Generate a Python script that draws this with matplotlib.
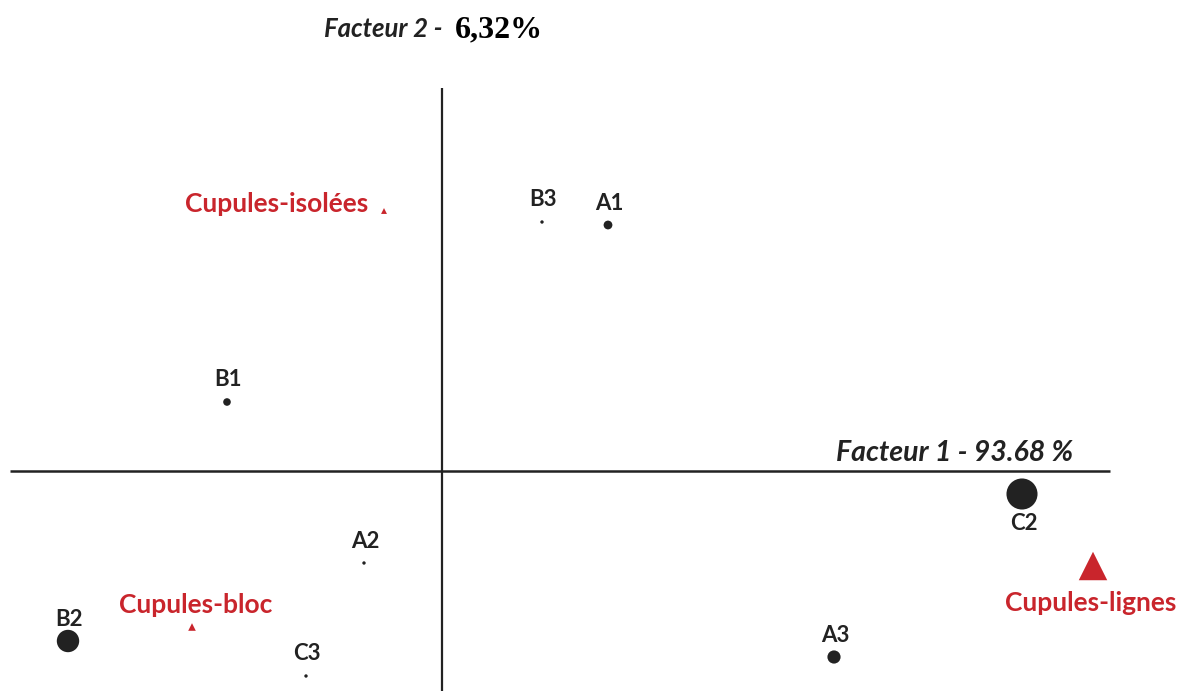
import matplotlib
matplotlib.use("Agg")
from matplotlib import pyplot as plt

# factor coordinates of the observations (origin = axes crossing)
obs_labels = ["B3", "A1", "B1", "C2", "A2", "B2", "C3", "A3"]
obs_x = [1.00, 1.66, -2.15, 5.80, -0.78, -3.74, -1.36, 3.92]
obs_y = [2.49, 2.46, 0.69, -0.23, -0.92, -1.70, -2.05, -1.86]
obs_mass = [6, 40, 30, 500, 6, 260, 6, 90]

# factor coordinates of the variables
var_labels = ["Cupules-isolées", "Cupules-bloc", "Cupules-lignes"]
var_x = [-0.58, -2.50, 6.51]
var_y = [2.60, -1.56, -0.95]
var_mass = [18, 30, 420]

axis1_title = "Facteur 1 - 93.68 %"
axis2_name = "Facteur 2 -"
axis2_pct = "6,32%"

RED = "#c9252c"
DARK = "#222222"
FONT = ["Lato", "DejaVu Sans"]

fig = plt.figure(figsize=(11.87, 6.91), dpi=100)
ax = fig.add_axes([0, 0, 1, 1])
ax.set_xlim(-4.42, 7.45)
ax.set_ylim(-2.20, 4.71)
ax.axis("off")

# axes lines
ax.plot([-4.32, 6.68], [0, 0], color=DARK, lw=1.8, solid_capstyle="butt")
ax.plot([0, 0], [-2.20, 3.83], color=DARK, lw=1.6, solid_capstyle="butt")

ax.scatter(obs_x, obs_y, s=obs_mass, color=DARK, zorder=3, linewidths=0)
ax.scatter(var_x, var_y, s=var_mass, color=RED, marker="^", zorder=3, linewidths=0)

# observation labels (mostly above the point, C2 below)
for _lab, _x, _y in zip(obs_labels, obs_x, obs_y):
    if _lab == "C2":
        ax.text(_x + 0.02, _y - 0.30, _lab, ha="center", va="center",
                fontsize=16, fontweight="bold", color=DARK, family=FONT)
    else:
        ax.text(_x + 0.01, _y + 0.22, _lab, ha="center", va="center",
                fontsize=16, fontweight="bold", color=DARK, family=FONT)

# variable labels
ax.text(var_x[0] - 0.16, var_y[0] + 0.07, var_labels[0], ha="right", va="center",
        fontsize=19, fontweight="bold", color=RED, family=FONT)
ax.text(var_x[1] + 0.04, var_y[1] + 0.22, var_labels[1], ha="center", va="center",
        fontsize=19, fontweight="bold", color=RED, family=FONT)
ax.text(var_x[2] - 0.02, var_y[2] - 0.37, var_labels[2], ha="center", va="center",
        fontsize=19, fontweight="bold", color=RED, family=FONT)

# axis titles
ax.text(6.31, 0.18, axis1_title, ha="right", va="center", fontsize=20.5,
        fontstyle="italic", fontweight="bold", color=DARK, family=FONT)
ax.text(0.01, 4.42, axis2_name, ha="right", va="center", fontsize=18.5,
        fontstyle="italic", fontweight="bold", color=DARK, family=FONT)
ax.text(0.13, 4.41, axis2_pct, ha="left", va="center", fontsize=23,
        fontweight="bold", color="black", family=["Liberation Serif", "DejaVu Serif"])

fig.savefig("out.png", dpi=100)
